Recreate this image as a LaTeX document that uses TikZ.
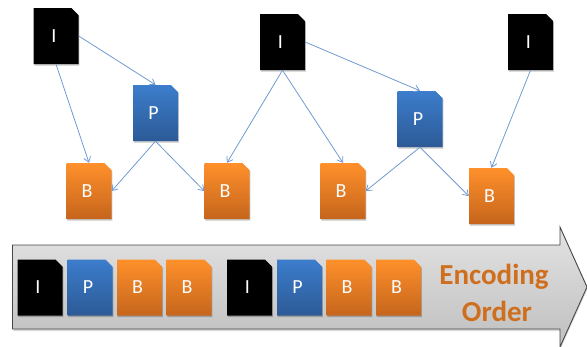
\documentclass[tikz,border=0pt]{standalone}
\usepackage{fontspec}
\setmainfont{Carlito}
\usetikzlibrary{arrows.meta}
\definecolor{linkblue}{HTML}{6F9BD1}
\definecolor{orangetop}{HTML}{FF902B}
\definecolor{orangebot}{HTML}{C5651C}
\definecolor{bluetop}{HTML}{3C7DCC}
\definecolor{bluebot}{HTML}{2C5A96}
\definecolor{titleorange}{HTML}{CF6F1E}
\tikzset{
  iframe/.style={fill=black},
  pframe/.style={top color=bluetop,bottom color=bluebot},
  bframe/.style={top color=orangetop,bottom color=orangebot},
  framelabel/.style={inner sep=0pt,minimum width=45pt,minimum height=56pt,text=white,font=\fontsize{20}{22}\selectfont},
  softshadow/.style={fill=black,opacity=0.22},
  link/.style={draw=linkblue,line width=0.8pt,-{Straight Barb[length=5pt,width=7pt]}},
  banner/.style={draw=black!72,line width=0.9pt,top color=black!11,bottom color=black!25},
  bannertext/.style={inner sep=0pt,text=titleorange,font=\fontsize{29}{31}\selectfont\bfseries}
}
\newcommand{\frameshape}[3]{%
  \path[#3] (#1,#2) -- ++(38,0) -- ++(7,7) -- ++(0,49) -- ++(-45,0) -- cycle;}
\newcommand{\framedoc}[5]{%
  \frameshape{#2+0.8}{#3+1.5}{softshadow}
  \frameshape{#2}{#3}{#4}
  \node[framelabel] (#1) at ({#2+22.5},{#3+28}) {\raisebox{-2pt}{#5}\kern4pt};}
\begin{document}
\begin{tikzpicture}[x=1pt,y=-1pt]
\useasboundingbox (0,0) rectangle (587,346);
% banner arrow
\path[fill=black,opacity=0.15] (13.5,247) -- (561,247) -- (561,229) -- (588,288) -- (561,348) -- (561,331) -- (13.5,331) -- cycle;
\path[banner] (12.5,245) -- (560,245) -- (560,227) -- (587,287) -- (560,347) -- (560,329) -- (12.5,329) -- cycle;
% top frames
\framedoc{ia}{33.5}{8}{iframe}{I}
\framedoc{pa}{133}{85}{pframe}{P}
\framedoc{ba}{66.5}{163}{bframe}{B}
\framedoc{bb}{204.5}{163}{bframe}{B}
\framedoc{ib}{260}{14}{iframe}{I}
\framedoc{pb}{397.5}{91}{pframe}{P}
\framedoc{bc}{320.5}{163}{bframe}{B}
\framedoc{bd}{469}{168}{bframe}{B}
\framedoc{ic}{508}{14}{iframe}{I}
% links
\draw[link] (ia.south) -- (ba.north);
\draw[link] (ia.east) -- (pa.north);
\draw[link] (pa.south) -- (ba.east);
\draw[link] (pa.south) -- (bb.west);
\draw[link] (ib.south) -- (bb.north);
\draw[link] (ib.south) -- (bc.north);
\draw[link] (ib.east) -- (pb.north);
\draw[link] (pb.south) -- (bc.east);
\draw[link] (pb.south) -- (bd.west);
\draw[link] (ic.south) -- (bd.north);
% encoding-order frames
\framedoc{sa}{17.5}{259.5}{iframe}{I}
\framedoc{sb}{67.5}{259.5}{pframe}{P}
\framedoc{sc}{117}{259.5}{bframe}{B}
\framedoc{sd}{166.5}{259.5}{bframe}{B}
\framedoc{se}{227}{259.5}{iframe}{I}
\framedoc{sf}{277}{259.5}{pframe}{P}
\framedoc{sg}{326.5}{259.5}{bframe}{B}
\framedoc{sh}{376}{259.5}{bframe}{B}
\node[bannertext] (enc) at (494,276.5) {Encoding};
\node[bannertext] (ord) at (497,311.5) {Order};
\end{tikzpicture}
\end{document}
